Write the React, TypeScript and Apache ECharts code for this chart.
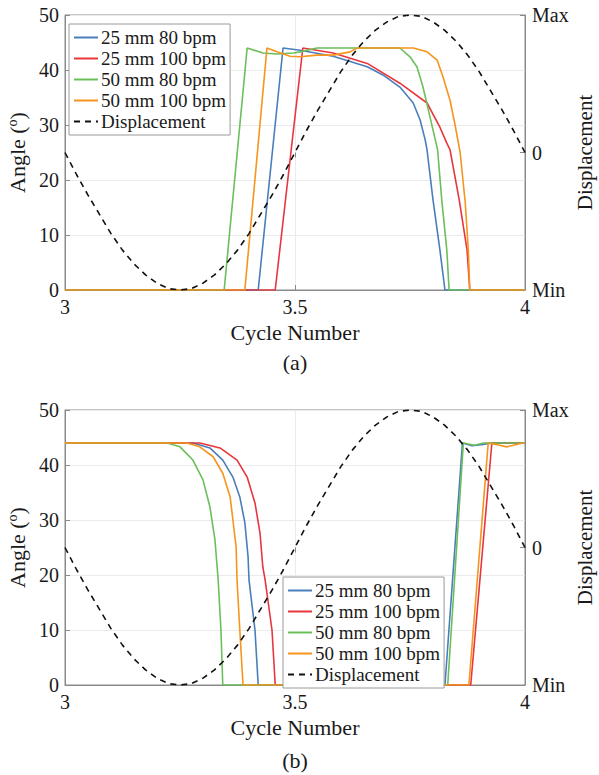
import React, { useEffect, useRef } from 'react';
import * as echarts from 'echarts';

const seriesNames = ['25 mm 80 bpm', '25 mm 100 bpm', '50 mm 80 bpm', '50 mm 100 bpm'];
const seriesColors = ['#4a7ebb', '#e8363c', '#6abf5a', '#f7941d'];
const dispName = 'Displacement';
const captions = ['(a)', '(b)'];
const rightTickLabels: Record<string, string> = { '-1': 'Min', '0': '0', '1': 'Max' };

// Panel (a): angle vs cycle number
const aBlue = [[3, 0], [3.42, 0], [3.474, 44], [3.511, 43.6], [3.583, 42.5], [3.657, 40.6], [3.691, 39.1], [3.728, 36.9], [3.757, 34], [3.772, 30.9], [3.783, 27.3], [3.787, 25.5], [3.8, 16.4], [3.815, 7.3], [3.826, 0], [4, 0]];
const aRed = [[3, 0], [3.457, 0], [3.517, 44], [3.583, 43.1], [3.657, 41.2], [3.728, 37.6], [3.787, 34], [3.815, 29.6], [3.83, 26.7], [3.837, 25.5], [3.857, 16.4], [3.874, 7.3], [3.88, 0], [4, 0]];
const aGreen = [[3, 0], [3.346, 0], [3.396, 44], [3.43, 43.1], [3.461, 42.9], [3.496, 43.1], [3.511, 43.3], [3.548, 44], [3.728, 44], [3.75, 42.4], [3.765, 40.6], [3.778, 37], [3.79, 32.7], [3.805, 27.3], [3.81, 25.5], [3.819, 16.4], [3.83, 7.3], [3.835, 0], [4, 0]];
const aOrange = [[3, 0], [3.391, 0], [3.439, 44], [3.461, 43.3], [3.489, 42.5], [3.511, 42.4], [3.548, 42.7], [3.583, 42.7], [3.62, 43.3], [3.635, 44], [3.757, 44], [3.787, 43.3], [3.809, 41.8], [3.822, 38.7], [3.837, 34.5], [3.848, 30], [3.859, 25], [3.87, 16], [3.877, 7], [3.88, 0], [4, 0]];

// Panel (b)
const bBlue = [[3, 44], [3.278, 44], [3.315, 43.1], [3.343, 40.9], [3.365, 37.8], [3.38, 34.2], [3.391, 29.5], [3.398, 23.3], [3.4, 19.1], [3.413, 10], [3.42, 0], [3.826, 0], [3.864, 44], [3.885, 43.5], [3.905, 43.7], [3.93, 44], [4, 44]];
const bRed = [[3, 44], [3.293, 44], [3.337, 43.1], [3.374, 40.9], [3.396, 37.8], [3.413, 33.1], [3.424, 27.6], [3.43, 21.5], [3.435, 19.1], [3.45, 10], [3.457, 0], [3.882, 0], [3.928, 44], [4, 44]];
const bGreen = [[3, 44], [3.222, 44], [3.25, 43.3], [3.278, 40.9], [3.3, 37.3], [3.315, 32.4], [3.326, 26.4], [3.333, 19.1], [3.339, 10], [3.343, 0], [3.832, 0], [3.866, 44], [3.89, 43.6], [3.91, 44], [4, 44]];
const bOrange = [[3, 44], [3.265, 44], [3.293, 43.3], [3.322, 41.5], [3.343, 38.5], [3.359, 34.2], [3.365, 30], [3.372, 25.1], [3.374, 19.1], [3.38, 10], [3.387, 0], [3.878, 0], [3.92, 44], [3.945, 43.6], [3.96, 43.3], [3.975, 43.6], [3.995, 44], [4, 44]];

// Displacement (normalised, Min = -1, Max = 1)
const dispCycle = [3, 3.025, 3.05, 3.075, 3.1, 3.125, 3.15, 3.175, 3.2, 3.225, 3.25, 3.275, 3.3, 3.325, 3.35, 3.375, 3.4, 3.425, 3.45, 3.475, 3.5, 3.525, 3.55, 3.575, 3.6, 3.625, 3.65, 3.675, 3.7, 3.725, 3.75, 3.775, 3.8, 3.825, 3.85, 3.875, 3.9, 3.925, 3.95, 3.975, 4];
const dispValue = [0, -0.16, -0.31, -0.45, -0.59, -0.71, -0.81, -0.89, -0.95, -0.99, -1, -0.99, -0.95, -0.89, -0.81, -0.71, -0.59, -0.45, -0.31, -0.16, 0, 0.16, 0.31, 0.45, 0.59, 0.71, 0.81, 0.89, 0.95, 0.99, 1, 0.99, 0.95, 0.89, 0.81, 0.71, 0.59, 0.45, 0.31, 0.16, 0];

const panels = [
  [aBlue, aRed, aGreen, aOrange],
  [bBlue, bRed, bGreen, bOrange],
];

const FONT = 'Liberation Serif, serif';
const AXIS_COLOR = '#8a8a8a';
const TEXT_COLOR = '#1a1a1a';

export default function App() {
  const ref = useRef<HTMLDivElement>(null);
  useEffect(() => {
    if (!ref.current) return;
    const chart = echarts.init(ref.current, null, { renderer: 'svg' });
    const gridTops = [15, 410];
    const gridHeight = 275;
    const legendPos = [
      { left: 69, top: 24 },
      { left: 283, top: 577 },
    ];
    const grid = gridTops.map((t) => ({
      left: 65, top: t, width: 460, height: gridHeight, show: true,
      outerBoundsMode: 'none', containLabel: false,
      borderColor: AXIS_COLOR, borderWidth: 1, backgroundColor: 'transparent',
    }));
    const xAxis: any[] = [];
    const yAxis: any[] = [];
    [0, 1].forEach((g) => {
      xAxis.push({
        type: 'value', gridIndex: g, position: 'bottom', min: 3, max: 4, interval: 0.5,
        axisLine: { show: true, lineStyle: { color: AXIS_COLOR } },
        axisTick: { show: true, inside: true, length: 5, lineStyle: { color: AXIS_COLOR } },
        axisLabel: { fontFamily: FONT, fontSize: 20, color: TEXT_COLOR, margin: 7, formatter: (v: number) => String(v) },
        splitLine: { show: true, lineStyle: { color: '#ebebeb' } },
        name: 'Cycle Number', nameLocation: 'middle', nameGap: 31,
        nameTextStyle: { fontFamily: FONT, fontSize: 22, color: TEXT_COLOR },
      });
    });
    [0, 1].forEach((g) => {
      xAxis.push({
        type: 'value', gridIndex: g, position: 'top', min: 3, max: 4, interval: 0.5,
        axisLine: { show: false },
        axisTick: { show: true, inside: true, length: 5, lineStyle: { color: AXIS_COLOR } },
        axisLabel: { show: false }, splitLine: { show: false },
      });
    });
    [0, 1].forEach((g) => {
      yAxis.push({
        type: 'value', gridIndex: g, position: 'left', min: 0, max: 50, interval: 10,
        axisLine: { show: true, lineStyle: { color: AXIS_COLOR } },
        axisTick: { show: true, inside: true, length: 5, lineStyle: { color: AXIS_COLOR } },
        axisLabel: { fontFamily: FONT, fontSize: 20, color: TEXT_COLOR, margin: 6 },
        splitLine: { show: true, lineStyle: { color: '#ebebeb' } },
        name: '{a|Angle (}{s|o}{a|)}', nameLocation: 'middle', nameGap: 21, nameRotate: 90,
        nameTextStyle: {
          fontFamily: FONT, fontSize: 22, color: TEXT_COLOR,
          rich: {
            a: { fontFamily: FONT, fontSize: 22, color: TEXT_COLOR, lineHeight: 24 },
            s: { fontFamily: FONT, fontSize: 14, color: TEXT_COLOR, verticalAlign: 'top', lineHeight: 12 },
          },
        },
      });
    });
    [0, 1].forEach((g) => {
      yAxis.push({
        type: 'value', gridIndex: g, position: 'right', min: -1, max: 1, interval: 1,
        axisLine: { show: true, lineStyle: { color: AXIS_COLOR } },
        axisTick: { show: true, inside: true, length: 5, lineStyle: { color: AXIS_COLOR } },
        axisLabel: { fontFamily: FONT, fontSize: 20, color: TEXT_COLOR, margin: 7, formatter: (v: number) => rightTickLabels[String(v)] ?? '' },
        splitLine: { show: false },
      });
    });
    const series: any[] = [];
    panels.forEach((sets, g) => {
      sets.forEach((data, i) => {
        series.push({
          type: 'line', name: seriesNames[i], data, xAxisIndex: g, yAxisIndex: g,
          symbol: 'none', lineStyle: { color: seriesColors[i], width: 1.6 },
          itemStyle: { color: seriesColors[i] },
        });
      });
      series.push({
        type: 'line', name: dispName, data: dispCycle.map((c, k) => [c, dispValue[k]]),
        xAxisIndex: g, yAxisIndex: g + 2, symbol: 'none',
        lineStyle: { color: '#111', width: 1.6, type: [6, 5] }, itemStyle: { color: '#111' },
      });
    });
    const legend = legendPos.map((p) => ({
      data: [...seriesNames, dispName], orient: 'vertical', left: p.left, top: p.top,
      backgroundColor: '#fff', borderColor: '#9a9a9a', borderWidth: 1,
      padding: [4, 4, 4, 4], itemGap: 2, itemWidth: 24, itemHeight: 14,
      itemStyle: { opacity: 0 },
      textStyle: { fontFamily: FONT, fontSize: 19, color: TEXT_COLOR, padding: [0, 0, 0, -2] },
      selectedMode: false,
    }));
    const graphic: any[] = captions.map((c, g) => ({
      type: 'text', x: 295, y: g === 0 ? 362 : 760,
      style: { text: c, fontFamily: FONT, fontSize: 22, fill: TEXT_COLOR, align: 'center', verticalAlign: 'middle' },
    }));
    gridTops.forEach((t) => {
      graphic.push({
        type: 'text', x: 585, y: t + gridHeight / 2, rotation: Math.PI / 2,
        style: { text: dispName, fontFamily: FONT, fontSize: 21, fill: TEXT_COLOR, align: 'center', verticalAlign: 'middle' },
      });
    });
    chart.setOption({
      animation: false, backgroundColor: '#fff',
      textStyle: { fontFamily: FONT },
      grid, xAxis, yAxis, series, legend, graphic,
    });
    return () => chart.dispose();
  }, []);
  return <div ref={ref} style={{ position: 'absolute', left: 0, top: 0, width: 599, height: 775, fontFamily: FONT }} />;
}
